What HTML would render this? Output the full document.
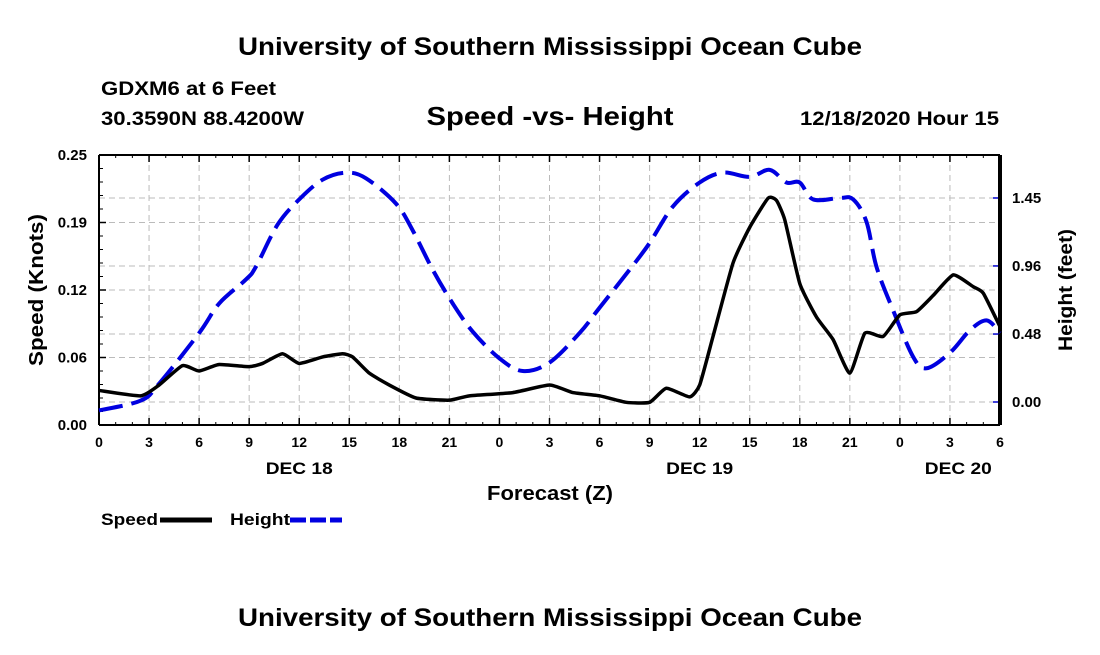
<!DOCTYPE html>
<html><head><meta charset="utf-8"><style>
body{margin:0;background:#fff;}
svg text{font-family:"Liberation Sans",Arial,sans-serif;font-weight:bold;fill:#000;}
</style></head><body>
<svg width="1100" height="650" viewBox="0 0 1100 650">
<text x="550" y="55" font-size="25" text-anchor="middle" textLength="624" lengthAdjust="spacingAndGlyphs">University of Southern Mississippi Ocean Cube</text>
<text x="101" y="95" font-size="19" textLength="175" lengthAdjust="spacingAndGlyphs">GDXM6 at 6 Feet</text>
<text x="101" y="125" font-size="19" textLength="203" lengthAdjust="spacingAndGlyphs">30.3590N 88.4200W</text>
<text x="550" y="125" font-size="26" text-anchor="middle" textLength="247" lengthAdjust="spacingAndGlyphs">Speed -vs- Height</text>
<text x="999" y="125" font-size="19" text-anchor="end" textLength="199" lengthAdjust="spacingAndGlyphs">12/18/2020 Hour 15</text>
<g id="grid"></g>
<g id="axes"></g>
<g id="series"></g>
<text x="550" y="500" font-size="20" text-anchor="middle" textLength="126" lengthAdjust="spacingAndGlyphs">Forecast (Z)</text>
<text transform="translate(43,290) rotate(-90)" font-size="20" text-anchor="middle" textLength="152" lengthAdjust="spacingAndGlyphs">Speed (Knots)</text>
<text transform="translate(1072,290) rotate(-90)" font-size="19" text-anchor="middle" textLength="122" lengthAdjust="spacingAndGlyphs">Height (feet)</text>
<g><text x="101" y="525" font-size="17" textLength="57" lengthAdjust="spacingAndGlyphs">Speed</text><line x1="160" y1="520" x2="212" y2="520" stroke="#000" stroke-width="5"/></g>
<g><text x="230" y="525" font-size="17" textLength="60" lengthAdjust="spacingAndGlyphs">Height</text><line x1="290" y1="520" x2="342" y2="520" stroke="#0000e0" stroke-width="5" stroke-dasharray="16,4"/></g>
<text x="550" y="626" font-size="25" text-anchor="middle" textLength="624" lengthAdjust="spacingAndGlyphs">University of Southern Mississippi Ocean Cube</text>
</svg>
<script>
const speedHours=[0,2.5,3.6,5,6,7.2,9,9.8,11,12,13.4,14.6,15.2,16.2,17.4,19,21,22.2,24.8,27,28.4,30,31.6,33,34,35.4,36,36.8,38,39,40.1,40.6,41.1,42,43,44,45,45.9,47,48,49,50,51.2,52.4,53,54];
const speedValues=[0.032,0.027,0.037,0.055,0.050,0.056,0.054,0.057,0.066,0.057,0.063,0.066,0.063,0.048,0.037,0.025,0.023,0.027,0.030,0.037,0.030,0.027,0.021,0.021,0.034,0.026,0.037,0.082,0.150,0.183,0.210,0.208,0.190,0.131,0.100,0.079,0.048,0.085,0.082,0.102,0.105,0.120,0.139,0.128,0.122,0.091];
const heightHours=[0,2.5,3.6,6,7.2,8.8,9.4,10.7,12,13.4,14.8,16,17.8,18.8,20,21.2,22.4,24,25.4,27,28.8,30,31.8,33,34.4,36,37.4,39,40.2,41.2,42,42.8,44.4,45.2,46,46.6,47.6,48.8,49.6,51,52.2,53.2,54];
const heightValues=[-0.06,0.01,0.13,0.49,0.70,0.87,0.96,1.26,1.44,1.58,1.63,1.59,1.41,1.22,0.94,0.70,0.50,0.31,0.22,0.28,0.49,0.67,0.94,1.13,1.39,1.56,1.63,1.60,1.65,1.56,1.56,1.44,1.45,1.44,1.28,0.96,0.65,0.32,0.24,0.35,0.51,0.58,0.49];
const xTickLabels=["0","3","6","9","12","15","18","21","0","3","6","9","12","15","18","21","0","3","6"];
const leftTickValues=[0,0.0625,0.125,0.1875,0.25];
const leftTickLabels=["0.00","0.06","0.12","0.19","0.25"];
const rightTickValues=[0,0.483,0.967,1.45];
const rightTickLabels=["0.00","0.48","0.96","1.45"];
const dayLabels=["DEC 18","DEC 19","DEC 20"];
const dayHours=[12,36,51.5];

const X0=99,X1=1000,Y0=425,Y1=155;
const xs=h=>X0+h*(X1-X0)/54;
const ysL=v=>Y0-v*(Y0-Y1)/0.25;
const ysR=v=>402-v*140.7;
const NS="http://www.w3.org/2000/svg";
function mk(p,t,a){const e=document.createElementNS(NS,t);for(const k in a)e.setAttribute(k,a[k]);p.appendChild(e);return e;}
const grid=document.getElementById('grid'),axes=document.getElementById('axes'),ser=document.getElementById('series');
const gs={stroke:"#bbb","stroke-width":1,"stroke-dasharray":"6,4"};
xTickLabels.forEach((l,i)=>{const x=xs(i*3);
 if(i>0&&i<18){const g=mk(grid,'line',Object.assign({x1:x,x2:x,y1:Y1,y2:Y0},gs));}
 mk(axes,'line',{x1:x,x2:x,y1:Y0,y2:Y0-7,stroke:"#000","stroke-width":1.5});
 mk(axes,'line',{x1:x,x2:x,y1:Y1,y2:Y1+7,stroke:"#000","stroke-width":1.5});
 const t=mk(axes,'text',{x:x,y:447,"font-size":14,"text-anchor":"middle"});t.textContent=l;
 
});
for(let h=0;h<=54;h+=1){const x=xs(h);mk(axes,'line',{x1:x,x2:x,y1:Y0,y2:Y0-3,stroke:"#000"});mk(axes,'line',{x1:x,x2:x,y1:Y1,y2:Y1+3,stroke:"#000"});}
leftTickValues.forEach((v,i)=>{const y=ysL(v);
 if(i>0&&i<4){const g=mk(grid,'line',Object.assign({x1:X0,x2:X1,y1:y,y2:y},gs));}
 mk(axes,'line',{x1:X0,x2:X0+7,y1:y,y2:y,stroke:"#000","stroke-width":1.5});
 const t=mk(axes,'text',{x:87,y:y+5,"font-size":15,"text-anchor":"end"});t.textContent=leftTickLabels[i];
 
});
for(let v=0;v<=0.25;v+=0.0125){const y=ysL(v);mk(axes,'line',{x1:X0,x2:X0+4,y1:y,y2:y,stroke:"#000"});}
rightTickValues.forEach((v,i)=>{const y=ysR(v);
 const g=mk(grid,'line',Object.assign({x1:X0,x2:X1,y1:y,y2:y},gs));
 mk(axes,'line',{x1:X1,x2:X1-7,y1:y,y2:y,stroke:"#00c","stroke-width":1.5});
 const t=mk(axes,'text',{x:1012,y:y+5,"font-size":15});t.textContent=rightTickLabels[i];
 
});
dayLabels.forEach((l,i)=>{const t=mk(axes,'text',{x:xs(dayHours[i]),y:474,"font-size":17,"text-anchor":"middle",textLength:67,lengthAdjust:"spacingAndGlyphs"});t.textContent=l;
 });
mk(axes,'line',{x1:X0,x2:X1,y1:Y1,y2:Y1,stroke:"#000","stroke-width":2});
mk(axes,'line',{x1:X0,x2:X1,y1:Y0,y2:Y0,stroke:"#000","stroke-width":2});
mk(axes,'line',{x1:X0,x2:X0,y1:Y1,y2:Y0,stroke:"#000","stroke-width":2});
mk(axes,'line',{x1:X1,x2:X1,y1:Y1,y2:Y0,stroke:"#000","stroke-width":4});
function path(hs,vs,ys,k){const p=hs.map((h,i)=>[xs(h),ys(vs[i])]);let d="M"+p[0];
 for(let i=0;i<p.length-1;i++){const a=p[i-1]||p[i],b=p[i],c=p[i+1],e=p[i+2]||c;
  const c1=[b[0]+(c[0]-a[0])/k,b[1]+(c[1]-a[1])/k],c2=[c[0]-(e[0]-b[0])/k,c[1]-(e[1]-b[1])/k];
  d+=" C"+c1+" "+c2+" "+c;}return d;}
const hp=mk(ser,'path',{d:path(heightHours,heightValues,ysR,6),fill:"none",stroke:"#0000e0","stroke-width":4,"stroke-dasharray":"24,9"});

const sp=mk(ser,'path',{d:path(speedHours,speedValues,ysL,12),fill:"none",stroke:"#000","stroke-width":3.5,"stroke-linejoin":"round"});

</script>
</body></html>
